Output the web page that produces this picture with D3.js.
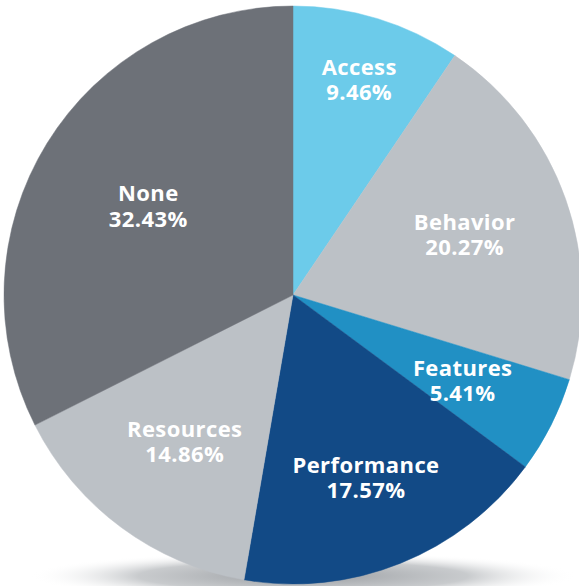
<!DOCTYPE html>
<html>
<head>
<meta charset="utf-8">
<script src="https://cdn.jsdelivr.net/npm/d3@7"></script>
<style>
  body { margin: 0; background: #fff; }
  svg { display: block; }
</style>
</head>
<body>
<div id="chart"></div>
<script>
var categories = ['Access', 'Behavior', 'Features', 'Performance', 'Resources', 'None'];
var values = [9.46, 20.27, 5.41, 17.57, 14.86, 32.43];
var colors = ['#6ccbea', '#bcc1c6', '#2190c4', '#124a86', '#bcc1c6', '#6d7178'];
// label distance from centre, per slice
var labelR = [226, 182, 190, 196, 182, 170];

var width = 579;
var height = 586;
var cx = 293, cy = 295, radius = 289;

var svg = d3.select('#chart')
  .append('svg')
  .attr('width', width)
  .attr('height', height);

// soft shadow under the pie
var defs = svg.append('defs');
var grad = defs.append('radialGradient')
  .attr('id', 'shadow')
  .attr('cx', '50%').attr('cy', '50%').attr('r', '50%');
grad.append('stop').attr('offset', '0%').attr('stop-color', '#8c9095').attr('stop-opacity', 0.9);
grad.append('stop').attr('offset', '60%').attr('stop-color', '#a4a8ac').attr('stop-opacity', 0.6);
grad.append('stop').attr('offset', '100%').attr('stop-color', '#ffffff').attr('stop-opacity', 0);

svg.append('ellipse')
  .attr('cx', cx + 10)
  .attr('cy', cy + radius - 8)
  .attr('rx', radius * 0.95)
  .attr('ry', 24)
  .attr('fill', 'url(#shadow)');

var pie = d3.pie().sort(null).value(function(d){ return d; });
var arcs = pie(values);

var arc = d3.arc().innerRadius(0).outerRadius(radius);

var g = svg.append('g')
  .attr('transform', 'translate(' + cx + ',' + cy + ')');

g.selectAll('path')
  .data(arcs)
  .enter()
  .append('path')
  .attr('d', arc)
  .attr('fill', function(d, i){ return colors[i]; })
  .attr('stroke', function(d, i){ return colors[i]; })
  .attr('stroke-width', 0.5);

// labels
var labels = g.selectAll('text.label')
  .data(arcs)
  .enter()
  .append('text')
  .attr('class', 'label')
  .attr('transform', function(d, i){
    var c = d3.arc().innerRadius(labelR[i]).outerRadius(labelR[i]).centroid(d);
    return 'translate(' + c[0] + ',' + c[1] + ')';
  })
  .attr('text-anchor', 'middle')
  .attr('fill', '#fff')
  .style('font-family', '"Open Sans", sans-serif')
  .style('font-weight', 700)
  .style('font-size', '22px')
  .style('letter-spacing', '0.4px');

labels.append('tspan')
  .attr('x', 0)
  .attr('dy', '-0.2em')
  .text(function(d, i){ return categories[i]; });
labels.append('tspan')
  .attr('x', 0)
  .attr('dy', '1.15em')
  .text(function(d){ return d.value.toFixed(2) + '%'; });
</script>
</body>
</html>
